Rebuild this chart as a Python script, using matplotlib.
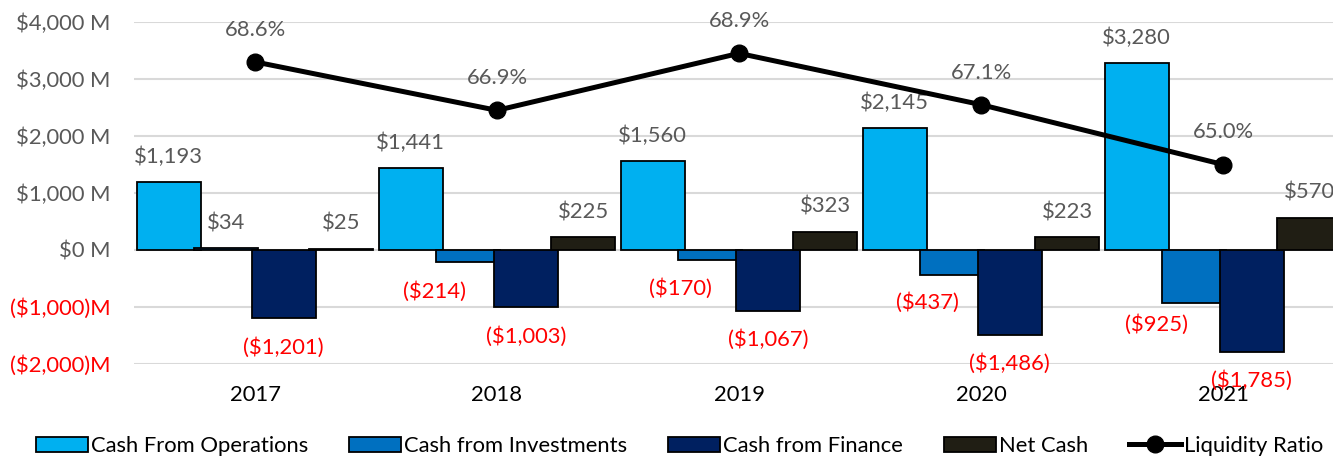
import matplotlib
matplotlib.use("Agg")
import matplotlib.pyplot as plt
from matplotlib.lines import Line2D
from matplotlib.patches import Patch
import numpy as np

plt.rcParams['font.family'] = ['Lato', 'DejaVu Sans']

years = ["2017", "2018", "2019", "2020", "2021"]
cash_operations = [1193, 1441, 1560, 2145, 3280]
cash_investments = [34, -214, -170, -437, -925]
cash_finance = [-1201, -1003, -1067, -1486, -1785]
net_cash = [25, 225, 323, 223, 570]
liquidity_ratio = [68.6, 66.9, 68.9, 67.1, 65.0]

series_names = ["Cash From Operations", "Cash from Investments", "Cash from Finance", "Net Cash"]
series_colors = ["#00B0F0", "#0070C0", "#002060", "#201E14"]
series_values = [cash_operations, cash_investments, cash_finance, net_cash]

# hand-placed label nudges (pixels) for the investment series, keeps them clear of neighbours
label_nudges = {1: [(0, 0), (-34, 0), (-30, 0), (-25, 1), (-38, 7)]}

GRAY = "#595959"
RED = "#FF0000"
FS = 15.8

fig = plt.figure(figsize=(13.33, 4.57), dpi=100)
ax = fig.add_axes([134 / 1333, 1 - 364 / 457, 1210 / 1333, 342 / 457])

x = np.arange(len(years))
width = 0.264
step = 0.238
offsets = (np.arange(4) - 1.5) * step

for si, (vals, color, off) in enumerate(zip(series_values, series_colors, offsets)):
    ax.bar(x + off, vals, width, color=color, edgecolor="black", linewidth=1.3, zorder=3)
    nudges = label_nudges.get(si, [(0, 0)] * len(vals))
    for xi, v, (dx, dy) in zip(x + off, vals, nudges):
        if v >= 0:
            ax.annotate(f"${v:,}", (xi, v), xytext=(dx, 25 + dy), textcoords="offset pixels",
                        ha="center", va="center", fontsize=FS, color=GRAY,
                        annotation_clip=False, zorder=5)
        else:
            ax.annotate(f"(${-v:,})", (xi, v), xytext=(dx, -29 + dy), textcoords="offset pixels",
                        ha="center", va="center", fontsize=FS, color=RED,
                        annotation_clip=False, zorder=5)

ax.set_ylim(-2000, 4000)
ax.set_xlim(-0.5, len(years) - 0.5)
yt = np.arange(-2000, 4001, 1000)
ax.set_yticks(yt)
ylabels = [f"${v:,} M" if v >= 0 else f"(${-v:,})M" for v in yt]
ax.set_yticklabels(ylabels, fontsize=FS)
for lbl, v in zip(ax.get_yticklabels(), yt):
    lbl.set_color(GRAY if v >= 0 else RED)
ax.set_xticks(x)
ax.set_xticklabels(years, fontsize=FS, color="black")
ax.tick_params(axis="both", length=0)
ax.tick_params(axis="x", pad=15)
ax.tick_params(axis="y", pad=17)
ax.grid(axis="y", color="#D9D9D9", linewidth=1.5, zorder=0)
ax.set_axisbelow(True)
for s in ax.spines.values():
    s.set_visible(False)

ax2 = ax.twinx()
ax2.set_ylim(58, 70)
ax2.plot(x, liquidity_ratio, color="black", linewidth=3.6, marker="o", markersize=12, zorder=6)
for xi, v in zip(x, liquidity_ratio):
    ax2.annotate(f"{v:.1f}%", (xi, v), xytext=(0, 32), textcoords="offset pixels",
                 ha="center", va="center", fontsize=FS, color=GRAY, annotation_clip=False)
ax2.set_yticks([])
for s in ax2.spines.values():
    s.set_visible(False)

handles = [Patch(facecolor=c, edgecolor="black", linewidth=1.3) for c in series_colors]
handles.append(Line2D([0], [0], color="black", linewidth=3.6, marker="o", markersize=12))
labels = series_names + ["Liquidity Ratio"]
fig.legend(handles, labels, loc="center", bbox_to_anchor=(0.51, 0.024), ncol=5,
           frameon=False, fontsize=FS, handlelength=2.37, handletextpad=0.15,
           columnspacing=1.85)

fig.savefig("out.png", dpi=100)
